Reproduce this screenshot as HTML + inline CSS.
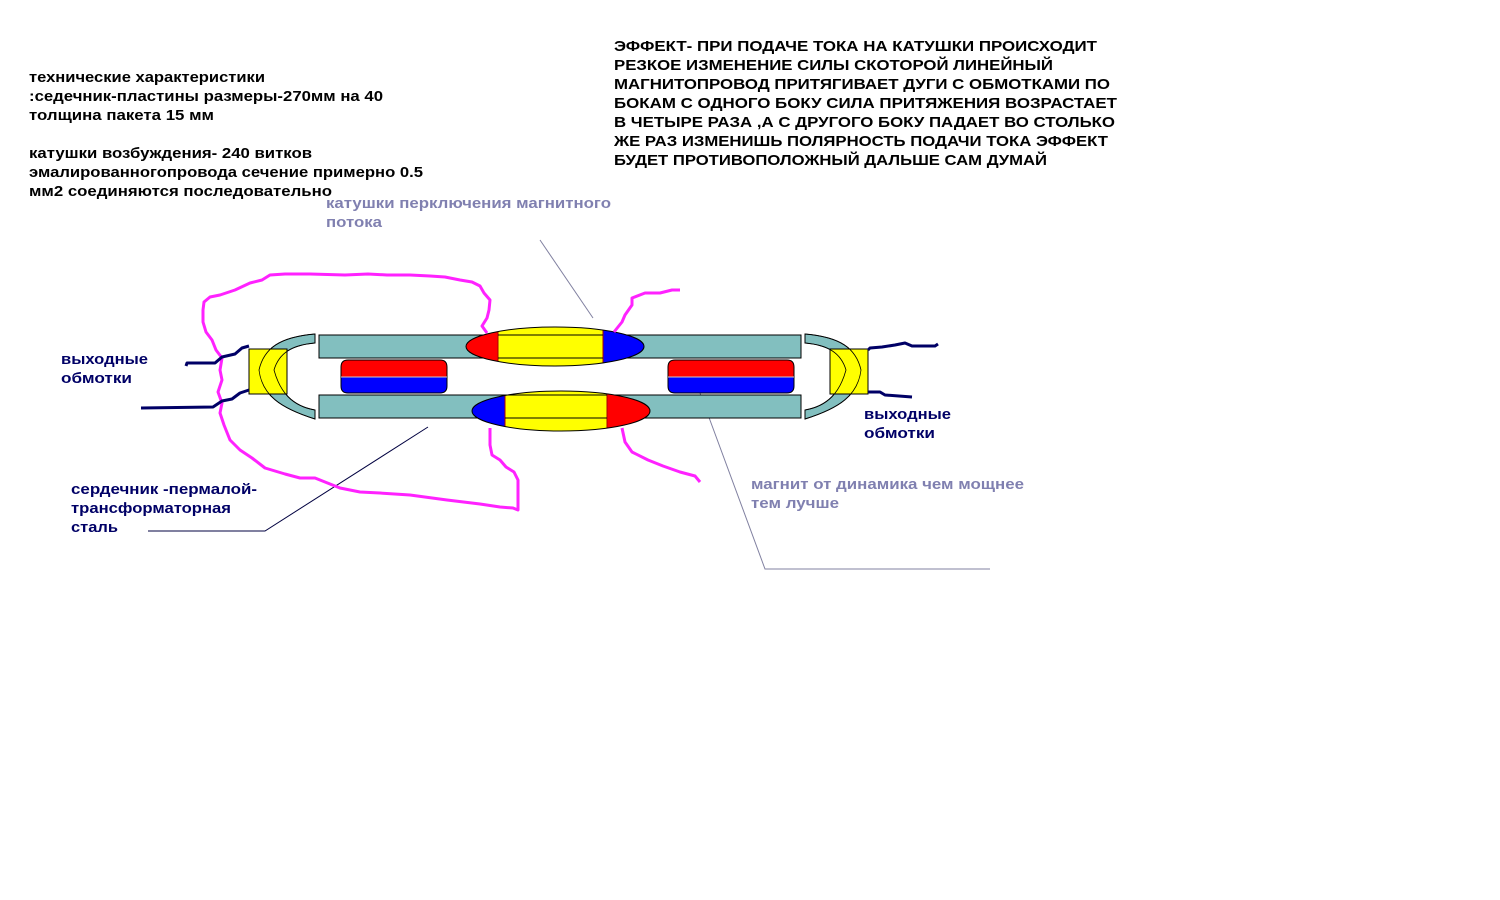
<!DOCTYPE html>
<html><head><meta charset="utf-8"><style>
html,body{margin:0;padding:0;background:#fff;}
svg{display:block}
text{font-family:"Liberation Sans",Arial,sans-serif;font-weight:bold;}
</style></head><body>
<svg width="1500" height="900" viewBox="0 0 1500 900" xmlns="http://www.w3.org/2000/svg">
<rect width="1500" height="900" fill="#fff"/>
<g font-size="14.5" fill="#000" lengthAdjust="spacingAndGlyphs">
<text x="29" y="82" textLength="236" lengthAdjust="spacingAndGlyphs">технические характеристики</text>
<text x="29" y="101" textLength="354" lengthAdjust="spacingAndGlyphs">:седечник-пластины размеры-270мм на 40</text>
<text x="29" y="120" textLength="185" lengthAdjust="spacingAndGlyphs">толщина пакета 15 мм</text>
<text x="29" y="158" textLength="283" lengthAdjust="spacingAndGlyphs">катушки возбуждения- 240 витков</text>
<text x="29" y="177" textLength="394" lengthAdjust="spacingAndGlyphs">эмалированногопровода сечение примерно 0.5</text>
<text x="29" y="196" textLength="303" lengthAdjust="spacingAndGlyphs">мм2 соединяются последовательно</text>
</g>
<g font-size="15" fill="#000">
<text x="614" y="51" textLength="483" lengthAdjust="spacingAndGlyphs">ЭФФЕКТ-  ПРИ ПОДАЧЕ ТОКА НА КАТУШКИ ПРОИСХОДИТ</text>
<text x="614" y="70" textLength="439" lengthAdjust="spacingAndGlyphs">РЕЗКОЕ ИЗМЕНЕНИЕ СИЛЫ СКОТОРОЙ ЛИНЕЙНЫЙ</text>
<text x="614" y="89" textLength="496" lengthAdjust="spacingAndGlyphs">МАГНИТОПРОВОД ПРИТЯГИВАЕТ ДУГИ С ОБМОТКАМИ  ПО</text>
<text x="614" y="108" textLength="503" lengthAdjust="spacingAndGlyphs">БОКАМ  С ОДНОГО БОКУ СИЛА ПРИТЯЖЕНИЯ ВОЗРАСТАЕТ</text>
<text x="614" y="127" textLength="501" lengthAdjust="spacingAndGlyphs">В ЧЕТЫРЕ РАЗА ,А С ДРУГОГО БОКУ ПАДАЕТ ВО СТОЛЬКО</text>
<text x="614" y="146" textLength="494" lengthAdjust="spacingAndGlyphs">ЖЕ РАЗ ИЗМЕНИШЬ ПОЛЯРНОСТЬ ПОДАЧИ ТОКА ЭФФЕКТ</text>
<text x="614" y="165" textLength="433" lengthAdjust="spacingAndGlyphs">БУДЕТ ПРОТИВОПОЛОЖНЫЙ ДАЛЬШЕ САМ ДУМАЙ</text>
</g>
<g font-size="14.5" fill="#8080b0">
<text x="326" y="208" textLength="285" lengthAdjust="spacingAndGlyphs">катушки перключения магнитного</text>
<text x="326" y="227" textLength="56" lengthAdjust="spacingAndGlyphs">потока</text>
<text x="751" y="489" textLength="273" lengthAdjust="spacingAndGlyphs">магнит от динамика чем мощнее</text>
<text x="751" y="508" textLength="88" lengthAdjust="spacingAndGlyphs">тем лучше</text>
</g>
<g font-size="14.5" fill="#000066">
<text x="61" y="364" textLength="87" lengthAdjust="spacingAndGlyphs">выходные</text>
<text x="61" y="383" textLength="71" lengthAdjust="spacingAndGlyphs">обмотки</text>
<text x="864" y="419" textLength="87" lengthAdjust="spacingAndGlyphs">выходные</text>
<text x="864" y="438" textLength="71" lengthAdjust="spacingAndGlyphs">обмотки</text>
<text x="71" y="494" textLength="186" lengthAdjust="spacingAndGlyphs">сердечник -пермалой-</text>
<text x="71" y="513" textLength="160" lengthAdjust="spacingAndGlyphs">трансформаторная</text>
<text x="71" y="532" textLength="47" lengthAdjust="spacingAndGlyphs">сталь</text>
</g>
<polyline points="540,240 593,318" fill="none" stroke="#8080a0" stroke-width="1"/>
<polyline points="148,531 265,531 428,427" fill="none" stroke="#000040" stroke-width="1"/>
<polyline points="697,385 765,569 990,569" fill="none" stroke="#8080a0" stroke-width="1"/>
<!-- arcs -->
<path id="la" d="M315,334 C280,337 264,348 259,370 C262,395 280,408 315,419 L315,410 C292,406 280,392 274,370 C279,353 292,345 315,343 Z" fill="#82bfbf" stroke="#000"/>
<path d="M805,334 C840,337 856,348 861,370 C858,395 840,408 805,419 L805,410 C828,406 840,392 846,370 C841,353 828,345 805,343 Z" fill="#82bfbf" stroke="#000"/>
<rect x="249" y="349" width="38" height="45" fill="#ffff00" stroke="#000"/>
<rect x="830" y="349" width="38" height="45" fill="#ffff00" stroke="#000"/>
<path d="M315,334 C280,337 264,348 259,370 C262,395 280,408 315,419 M315,410 C292,406 280,392 274,370 C279,353 292,345 315,343" fill="none" stroke="#000" stroke-width="0.8"/>
<path d="M805,334 C840,337 856,348 861,370 C858,395 840,408 805,419 M805,410 C828,406 840,392 846,370 C841,353 828,345 805,343" fill="none" stroke="#000" stroke-width="0.8"/>
<rect x="319" y="335" width="482" height="23" fill="#82bfbf" stroke="#000"/>
<rect x="319" y="395" width="482" height="23" fill="#82bfbf" stroke="#000"/>
<g stroke="#000">
<path d="M348,360 H440 Q447,360 447,367 V377 H341 V367 Q341,360 348,360 Z" fill="#ff0000"/>
<path d="M341,377 H447 V386 Q447,393 440,393 H348 Q341,393 341,386 Z" fill="#0000ff"/>
<path d="M675,360 H787 Q794,360 794,367 V377 H668 V367 Q668,360 675,360 Z" fill="#ff0000"/>
<path d="M668,377 H794 V386 Q794,393 787,393 H675 Q668,393 668,386 Z" fill="#0000ff"/>
</g>
<line x1="341" y1="377" x2="447" y2="377" stroke="#ccc"/>
<line x1="668" y1="377" x2="794" y2="377" stroke="#ccc"/>
<defs>
<clipPath id="e1"><ellipse cx="555" cy="346.5" rx="89" ry="19.5"/></clipPath>
<clipPath id="e2"><ellipse cx="561" cy="411" rx="89" ry="20"/></clipPath>
</defs>
<g clip-path="url(#e1)">
<rect x="460" y="320" width="38" height="60" fill="#ff0000"/>
<rect x="498" y="320" width="105" height="60" fill="#ffff00"/>
<rect x="603" y="320" width="45" height="60" fill="#0000ff"/>
<line x1="498" y1="320" x2="498" y2="380" stroke="#a00"/>
<line x1="603" y1="320" x2="603" y2="380" stroke="#a00"/>
<line x1="498" y1="335" x2="603" y2="335" stroke="#000"/>
<line x1="498" y1="358" x2="603" y2="358" stroke="#000"/>
</g>
<ellipse cx="555" cy="346.5" rx="89" ry="19.5" fill="none" stroke="#000"/>
<g clip-path="url(#e2)">
<rect x="466" y="385" width="39" height="60" fill="#0000ff"/>
<rect x="505" y="385" width="102" height="60" fill="#ffff00"/>
<rect x="607" y="385" width="48" height="60" fill="#ff0000"/>
<line x1="505" y1="385" x2="505" y2="445" stroke="#a00"/>
<line x1="607" y1="385" x2="607" y2="445" stroke="#a00"/>
<line x1="505" y1="395" x2="607" y2="395" stroke="#000"/>
<line x1="505" y1="418" x2="607" y2="418" stroke="#000"/>
</g>
<ellipse cx="561" cy="411" rx="89" ry="20" fill="none" stroke="#000"/>
<g fill="none" stroke="#ff22ff" stroke-width="3" stroke-linejoin="round">
<polyline points="487,333 482,326 487,318 489,310 490,300 484,293 480,286 472,282 460,280 445,277 430,276 410,275 387,275 368,274 345,275 310,274 285,274 270,275 262,280 250,283 235,290 220,295 210,297 204,302 203,310 203,322 206,332 212,340 216,350 222,358 220,370 222,380 218,392 222,403 220,413 224,425 230,440 240,450 252,458 265,468 285,474 300,478 315,478 340,488 360,492 380,493 410,495 447,500 480,504 500,507 513,508 518,510 518,480 514,472 506,467 500,460 492,455 490,445 490,428"/>
<polyline points="614,332 622,322 625,315 632,305 632,298 645,293 660,293 672,290 680,290"/>
<polyline points="622,428 625,442 632,452 648,460 663,466 680,472 695,476 700,482"/>
</g>
<g fill="none" stroke="#000066" stroke-width="3" stroke-linejoin="round">
<polyline points="186,366 187,363 215,363 222,357 235,354 242,348 249,346"/>
<polyline points="141,408 213,407 222,401 232,399 240,393 249,390"/>
<polyline points="868,350 870,348 882,347 895,345 905,343 912,346 935,346 938,344"/>
<polyline points="868,392 880,392 885,395 912,397"/>
</g>
</svg>
</body></html>
